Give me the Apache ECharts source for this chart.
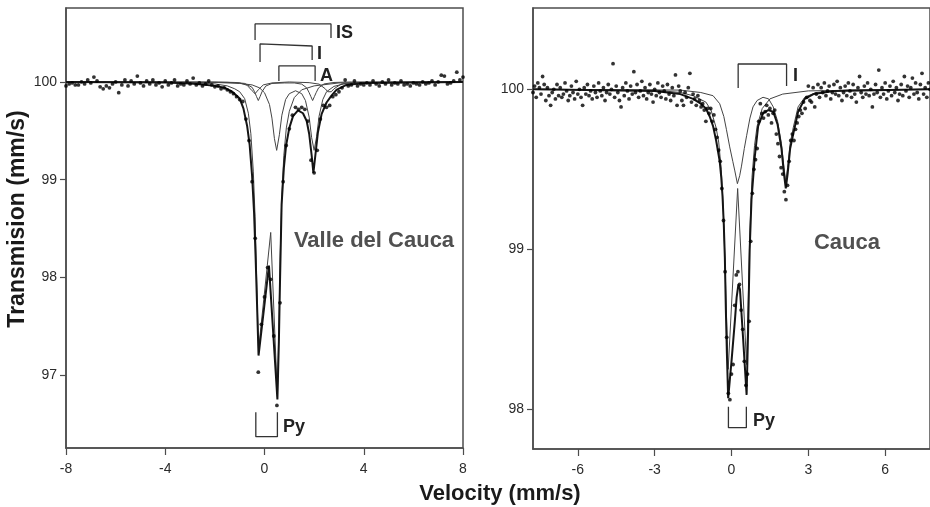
<!DOCTYPE html>
<html>
<head>
<meta charset="utf-8">
<title>Mossbauer spectra</title>
<script src="https://cdn.jsdelivr.net/npm/echarts@6.0.0/dist/echarts.min.js"></script>
<style>
    html, body { margin: 0; padding: 0; background: #fff; }
    #main { width: 930px; height: 507px; }
</style>
</head>
<body>
<div id="main"></div>
<script>
// Valle del Cauca: channel velocities start at -8 mm/s, step 0.125
var velStartL = -8, velStepL = 0.125;
var transL = [
    99.96, 99.98, 99.99, 99.97, 99.97, 100.00, 99.98, 100.02,
    99.99, 100.05, 100.01, 99.95, 99.93, 99.96, 99.94, 99.98,
    100.00, 99.89, 99.97, 100.02, 99.96, 100.01, 99.98, 100.06,
    99.99, 99.96, 100.01, 99.98, 100.02, 99.97, 99.99, 99.95,
    100.01, 99.97, 99.99, 100.02, 99.96, 99.98, 99.97, 100.01,
    99.98, 100.04, 99.97, 99.99, 99.96, 99.98, 100.01, 99.97,
    99.95, 99.96, 99.93, 99.94, 99.92, 99.90, 99.88, 99.85,
    99.82, 99.80, 99.62, 99.40, 98.98, 98.40, 97.03, 97.52,
    97.80, 98.10, 97.98, 97.40, 96.69, 97.74, 98.98, 99.35,
    99.52, 99.66, 99.74, 99.72, 99.74, 99.72, 99.60, 99.20,
    99.07, 99.30, 99.62, 99.76, 99.74, 99.76, 99.85, 99.87,
    99.90, 99.94, 100.02, 99.96, 99.97, 100.01, 99.96, 99.98,
    99.97, 99.99, 99.97, 100.01, 99.98, 99.96, 100.00, 99.98,
    100.02, 99.97, 99.99, 99.98, 100.01, 99.97, 99.98, 99.96,
    99.99, 99.98, 99.97, 100.00, 99.98, 99.99, 100.01, 99.97,
    100.00, 100.07, 100.06, 99.98, 99.99, 100.01, 100.10, 100.02,
    100.05
];
// fitted curves, [velocity, transmission]
var fitTotalL = [[-8, 100], [-4, 99.995], [-3, 99.985], [-2.5, 99.975], [-2, 99.96], [-1.6, 99.94], [-1.3, 99.9],
    [-1.0, 99.83], [-0.85, 99.73], [-0.7, 99.55], [-0.6, 99.36], [-0.5, 99.04], [-0.42, 98.66], [-0.36, 98.22],
    [-0.30, 97.72], [-0.24, 97.2], [0.18, 98.12], [0.52, 96.75], [0.58, 97.35], [0.62, 97.9], [0.69, 98.75],
    [0.78, 99.12], [0.87, 99.35], [1.0, 99.53], [1.15, 99.65], [1.35, 99.71], [1.55, 99.68], [1.7, 99.6],
    [1.8, 99.47], [1.9, 99.25], [1.97, 99.07], [2.05, 99.25], [2.15, 99.48], [2.3, 99.67], [2.5, 99.79],
    [2.7, 99.86], [2.9, 99.92], [3.3, 99.97], [4, 99.99], [8, 100]];
var fitPyL = [[-8, 100], [-3, 99.995], [-2, 99.98], [-1.5, 99.96], [-1.2, 99.93], [-1.0, 99.9], [-0.8, 99.83],
    [-0.65, 99.68], [-0.55, 99.47], [-0.45, 99.08], [-0.38, 98.62], [-0.32, 98.02], [-0.27, 97.52], [-0.24, 97.26],
    [0.25, 98.46], [0.52, 96.78], [0.58, 97.5], [0.63, 98.2], [0.70, 98.85], [0.78, 99.25], [0.88, 99.53],
    [1.0, 99.7], [1.2, 99.84], [1.5, 99.92], [2.0, 99.96], [3.0, 99.99], [8, 100]];
var fitAL = [[-8, 100], [-2, 99.995], [-1.0, 99.985], [-0.5, 99.97], [-0.2, 99.94], [0.0, 99.89], [0.2, 99.77],
    [0.3, 99.63], [0.4, 99.42], [0.49, 99.30], [0.6, 99.46], [0.7, 99.66], [0.85, 99.82], [1.0, 99.88],
    [1.25, 99.91], [1.5, 99.88], [1.65, 99.81], [1.8, 99.64], [1.9, 99.43], [2.0, 99.30], [2.1, 99.44],
    [2.2, 99.65], [2.35, 99.82], [2.5, 99.90], [2.8, 99.955], [3.2, 99.98], [4, 99.99], [8, 100]];
var fitIL = [[-8, 100], [-2, 100], [-1.2, 99.995], [-0.8, 99.985], [-0.5, 99.945], [-0.4, 99.90], [-0.32, 99.85],
    [-0.25, 99.81], [-0.18, 99.85], [-0.1, 99.90], [0.05, 99.958], [0.3, 99.985], [0.8, 99.99], [1.2, 99.99],
    [1.5, 99.978], [1.7, 99.94], [1.8, 99.89], [1.87, 99.85], [1.94, 99.81], [2.01, 99.85], [2.08, 99.89],
    [2.18, 99.94], [2.4, 99.98], [2.8, 99.995], [3.5, 100], [8, 100]];
var fitISL = [[-8, 100], [-1.5, 99.996], [-1.0, 99.99], [-0.7, 99.966], [-0.5, 99.91], [-0.44, 99.895],
    [-0.38, 99.88], [-0.32, 99.895], [-0.25, 99.92], [-0.05, 99.97], [0.3, 99.99], [1.0, 100], [1.8, 99.993],
    [2.2, 99.978], [2.45, 99.93], [2.55, 99.9], [2.62, 99.88], [2.69, 99.9], [2.8, 99.93], [3.1, 99.98],
    [3.6, 99.995], [8, 100]];

// Cauca: channel velocities start at -7.75 mm/s, step 0.0625
var velStartR = -7.75, velStepR = 0.0625;
var transR = [
    99.98, 100.02, 99.95, 100.04, 100.01, 99.97, 100.08, 100.03,
    99.93, 100.01, 99.96, 99.90, 99.98, 100.00, 99.94, 100.03,
    99.96, 100.01, 99.95, 99.97, 100.04, 99.99, 99.93, 99.96,
    100.02, 99.98, 99.94, 100.05, 99.97, 100.00, 99.95, 99.90,
    100.01, 99.97, 100.03, 99.96, 99.99, 99.94, 100.02, 99.98,
    99.95, 100.04, 99.99, 99.96, 100.01, 99.93, 99.98, 100.03,
    99.97, 100.00, 100.16, 99.95, 100.02, 99.98, 99.93, 99.89,
    100.01, 99.96, 100.04, 99.99, 99.94, 100.02, 99.97, 100.11,
    99.98, 100.03, 99.95, 99.99, 100.05, 99.96, 100.01, 99.94,
    99.98, 100.03, 99.97, 99.92, 100.00, 99.96, 100.04, 99.98,
    99.95, 100.02, 99.99, 99.94, 100.03, 99.97, 99.93, 100.01,
    99.96, 100.09, 99.90, 100.02, 99.99, 99.93, 99.90, 99.98,
    99.95, 100.01, 100.10, 99.92, 99.97, 99.94, 99.90, 99.96,
    99.93, 99.89, 99.91, 99.87, 99.80, 99.88, 99.85, 99.88,
    99.80, 99.84, 99.75, 99.70, 99.62, 99.55, 99.38, 99.18,
    98.86, 98.45, 98.10, 98.06, 98.22, 98.28, 98.65, 98.84,
    98.86, 98.78, 98.62, 98.50, 98.30, 98.15, 98.22, 98.55,
    99.05, 99.35, 99.50, 99.56, 99.63, 99.80, 99.91, 99.85,
    99.82, 99.86, 99.90, 99.84, 99.88, 99.79, 99.85, 99.87,
    99.72, 99.66, 99.58, 99.51, 99.47, 99.36, 99.31, 99.40,
    99.55, 99.68, 99.72, 99.68, 99.75, 99.79, 99.83, 99.87,
    99.85, 99.92, 99.88, 99.95, 100.02, 99.93, 99.92, 100.01,
    99.89, 99.97, 100.03, 99.95, 100.01, 99.98, 100.04, 99.96,
    99.99, 100.02, 99.94, 99.98, 100.03, 99.97, 100.05, 99.96,
    100.01, 99.93, 99.98, 100.02, 99.96, 100.04, 99.99, 99.95,
    100.03, 99.97, 99.92, 100.01, 100.08, 99.98, 99.95, 100.02,
    99.97, 100.04, 99.96, 100.00, 99.89, 99.97, 100.03, 99.98,
    100.12, 99.95, 100.01, 99.97, 100.04, 99.94, 99.99, 100.02,
    99.96, 100.05, 99.98, 100.01, 99.93, 99.97, 100.03, 99.96,
    100.08, 99.99, 100.02, 99.95, 100.01, 100.07, 99.97, 100.04,
    99.98, 99.94, 100.03, 100.10, 99.97, 100.01, 99.95, 100.04,
    100.00
];
var fitTotalR = [[-7.75, 100], [-3, 99.99], [-2, 99.97], [-1.5, 99.94], [-1.2, 99.91], [-1.0, 99.88], [-0.85, 99.83],
    [-0.72, 99.77], [-0.6, 99.68], [-0.46, 99.55], [-0.4, 99.45], [-0.35, 99.33], [-0.3, 99.15], [-0.26, 98.95],
    [-0.22, 98.62], [-0.18, 98.35], [-0.13, 98.07], [0.0, 98.3], [0.13, 98.55], [0.2, 98.7], [0.27, 98.78],
    [0.33, 98.75], [0.45, 98.45], [0.59, 98.09], [0.65, 98.5], [0.71, 99.0], [0.78, 99.31], [0.91, 99.58],
    [1.04, 99.77], [1.23, 99.85], [1.43, 99.87], [1.63, 99.86], [1.8, 99.78], [1.95, 99.63], [2.05, 99.47],
    [2.12, 99.38], [2.19, 99.47], [2.29, 99.63], [2.41, 99.72], [2.6, 99.86], [2.86, 99.94], [3.2, 99.97],
    [4, 99.99], [7.75, 100]];
var fitPyR = [[-7.75, 100], [-3, 99.995], [-2, 99.98], [-1.5, 99.96], [-1.0, 99.92], [-0.8, 99.87], [-0.6, 99.76],
    [-0.5, 99.67], [-0.4, 99.5], [-0.32, 99.25], [-0.26, 98.95], [-0.2, 98.6], [-0.13, 98.25], [0.24, 99.38],
    [0.59, 98.28], [0.65, 98.65], [0.72, 99.12], [0.8, 99.45], [0.9, 99.65], [1.0, 99.77], [1.2, 99.88],
    [1.5, 99.94], [2.0, 99.97], [3.0, 99.99], [7.75, 100]];
var fitIR = [[-7.75, 100], [-2, 99.995], [-1.2, 99.98], [-0.72, 99.96], [-0.46, 99.91], [-0.3, 99.83], [-0.2, 99.75],
    [-0.07, 99.64], [0.05, 99.55], [0.13, 99.49], [0.23, 99.41], [0.32, 99.46], [0.39, 99.52], [0.5, 99.63],
    [0.59, 99.71], [0.72, 99.82], [0.84, 99.89], [1.0, 99.93], [1.23, 99.95], [1.45, 99.94], [1.63, 99.89],
    [1.8, 99.8], [1.95, 99.66], [2.05, 99.51], [2.12, 99.42], [2.19, 99.51], [2.29, 99.66], [2.41, 99.76],
    [2.6, 99.89], [2.86, 99.95], [3.3, 99.98], [4.5, 99.995], [7.75, 100]];

// doublet markers (velocity / transmission of the bracket corners)
var brISL = [[-0.38, 100.43], [-0.38, 100.594], [2.68, 100.594], [2.68, 100.45]];
var brIL = [[-0.18, 100.205], [-0.18, 100.389], [1.92, 100.368], [1.92, 100.225]];
var brAL = [[0.58, 100.01], [0.58, 100.164], [2.04, 100.164], [2.04, 100.01]];
var brPyL = [[-0.35, 96.62], [-0.35, 96.37], [0.52, 96.37], [0.52, 96.62]];
var brIR = [[0.26, 100.008], [0.26, 100.158], [2.15, 100.158], [2.15, 100.02]];
var brPyR = [[-0.12, 98.016], [-0.12, 97.885], [0.58, 97.885], [0.58, 98.016]];

var ticksXR = [-6, -3, 0, 3, 6];
var ticksYL = [97, 98, 99, 100];
var ticksYR = [98, 99, 100];

var font = '"Liberation Sans", Arial, sans-serif';
var frameColor = '#4d4d4d';

function toPoints(start, step, vals) {
    return vals.map(function (t, i) {
        return [start + i * step, t];
    });
}

function xAxisOf(idx, min, max, ticks) {
    var ax = {
        gridIndex: idx, type: 'value', min: min, max: max,
        axisLine: {show: true, onZero: false, lineStyle: {color: frameColor, width: 1.5}},
        axisTick: {show: true, length: 7, lineStyle: {color: frameColor, width: 1.2}},
        axisLabel: {margin: 14, fontSize: 14, color: '#2b2b2b', fontFamily: font},
        splitLine: {show: false}
    };
    if (ticks) {
        ax.axisTick.customValues = ticks;
        ax.axisLabel.customValues = ticks;
    } else {
        ax.interval = 4;
    }
    return ax;
}

function yAxisOf(idx, min, max, ticks) {
    return {
        gridIndex: idx, type: 'value', min: min, max: max,
        axisLine: {show: true, onZero: false, lineStyle: {color: frameColor, width: 1.5}},
        axisTick: {show: true, length: 6, customValues: ticks, lineStyle: {color: frameColor, width: 1.2}},
        axisLabel: {margin: 9, fontSize: 14, color: '#2b2b2b', fontFamily: font, customValues: ticks},
        splitLine: {show: false}
    };
}

function curve(idx, data, width, color, z) {
    return {
        type: 'line', xAxisIndex: idx, yAxisIndex: idx, data: data,
        symbol: 'none', smooth: false, z: z,
        lineStyle: {width: width, color: color}
    };
}

function dots(idx, data) {
    return {
        type: 'scatter', xAxisIndex: idx, yAxisIndex: idx, data: data,
        symbol: 'circle', symbolSize: 3.8, z: 5,
        itemStyle: {color: '#000'}
    };
}

function label(text, x, y, size, color, align) {
    return {
        type: 'text', x: x, y: y, silent: true,
        style: {
            text: text, font: 'bold ' + size + 'px ' + font, fill: color,
            align: align || 'left', verticalAlign: 'middle'
        }
    };
}

var myChart = echarts.init(document.getElementById('main'), null, {renderer: 'canvas'});
var option = {
    animation: false,
    backgroundColor: '#fff',
    grid: [
        {left: 66, top: 8, width: 397, height: 440, show: true, borderColor: frameColor, borderWidth: 1.5},
        {left: 533, top: 8, width: 398, height: 441, show: true, borderColor: frameColor, borderWidth: 1.5}
    ],
    xAxis: [
        xAxisOf(0, -8, 8, null),
        xAxisOf(1, -7.75, 7.75, ticksXR)
    ],
    yAxis: [
        yAxisOf(0, 96.254, 100.757, ticksYL),
        yAxisOf(1, 97.752, 100.508, ticksYR)
    ],
    series: [
        curve(0, fitISL, 1, '#444', 2),
        curve(0, fitIL, 1, '#444', 2),
        curve(0, fitAL, 1, '#444', 2),
        curve(0, fitPyL, 1, '#444', 3),
        curve(0, fitTotalL, 2, '#151515', 4),
        dots(0, toPoints(velStartL, velStepL, transL)),
        curve(0, brISL, 1.3, '#333', 6),
        curve(0, brIL, 1.3, '#333', 6),
        curve(0, brAL, 1.3, '#333', 6),
        curve(0, brPyL, 1.3, '#333', 6),

        curve(1, fitIR, 1, '#444', 2),
        curve(1, fitPyR, 1, '#444', 3),
        curve(1, fitTotalR, 2, '#151515', 4),
        dots(1, toPoints(velStartR, velStepR, transR)),
        curve(1, brIR, 1.3, '#333', 6),
        curve(1, brPyR, 1.3, '#333', 6)
    ],
    graphic: [
        {
            type: 'text', x: 18, y: 219, rotation: Math.PI / 2, silent: true,
            style: {
                text: 'Transmision (mm/s)', font: 'bold 23px ' + font, fill: '#1a1a1a',
                align: 'center', verticalAlign: 'middle'
            }
        },
        label('Velocity (mm/s)', 500, 494, 22, '#1a1a1a', 'center'),
        label('Valle del Cauca', 374, 241, 22, '#505050', 'center'),
        label('Cauca', 847, 243, 22, '#505050', 'center'),
        label('IS', 336, 33, 18, '#222'),
        label('I', 317, 54, 18, '#222'),
        label('A', 320, 76, 18, '#222'),
        label('Py', 283, 427, 18, '#222'),
        label('I', 793, 76, 18, '#222'),
        label('Py', 753, 421, 18, '#222')
    ]
};
myChart.setOption(option);
</script>
</body>
</html>
